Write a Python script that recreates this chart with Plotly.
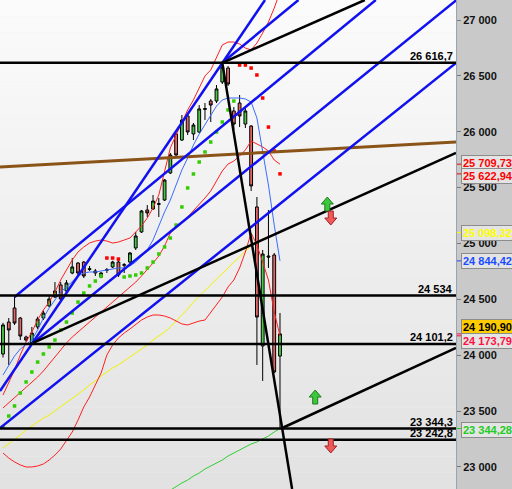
import plotly.graph_objects as go

# ---------------- data ----------------
idx = list(range(49))
open_ = [24011, 24297, 24423, 24333, 24163, 24110, 24253, 24333, 24441, 24521,
         24629, 24575, 24736, 24825, 24834, 24775, 24754, 24700, 24760, 24790,
         24834, 24805, 24834, 24960, 25103, 25300, 25309, 25350, 25389, 25631,
         25980, 25926, 26141, 25980, 25997, 26200, 26275, 26275, 26445, 26570,
         26186, 26257, 26069, 26051, 25327, 24083, 24888, 24897, 23993]
high = [24290, 24333, 24521, 24342, 24175, 24253, 24345, 24400, 24539, 24655,
        24655, 24673, 24870, 24834, 24843, 24799, 24772, 24745, 24781, 24845,
        24870, 24825, 24924, 25103, 25300, 25344, 25434, 25407, 25577, 25810,
        25989, 26150, 26168, 26078, 26239, 26257, 26293, 26418, 26616.7, 26588,
        26221, 26329, 26221, 26060, 25416, 24942, 25300, 24915, 24378]
low = [23980, 23913, 24271, 24136, 24120, 24101.2, 24235, 24315, 24430, 24512,
       24495, 24557, 24725, 24700, 24691, 24754, 24709, 24690, 24736, 24780,
       24700, 24736, 24807, 24942, 25094, 25237, 25300, 25237, 25380, 25622,
       25774, 25917, 25971, 25926, 25989, 26105, 26087, 26257, 26427, 26409,
       26016, 26042, 26033, 25470, 23913, 23770, 24781, 23841, 23344.3]
close = [24271, 24226, 24288, 24172, 24136, 24199, 24324, 24378, 24503, 24575,
         24503, 24647, 24790, 24736, 24709, 24768, 24736, 24736, 24766, 24834,
         24718, 24810, 24915, 25067, 25291, 25273, 25380, 25356, 25568, 25792,
         25792, 26105, 25998, 26060, 26204, 26207, 26239, 26383, 26579, 26427,
         26069, 26141, 26186, 25515, 24342, 24906, 24879, 23850, 24190.9]

bb_upper = [23644, 23760, 23868, 24002, 24118, 24208, 24315, 24405, 24476, 24566,
            24673, 24763, 24852, 24924, 24969, 25004, 25022, 25031, 25022, 25004,
            25013, 25031, 25049, 25103, 25157, 25228, 25318, 25434, 25658, 25855,
            25971, 26087, 26195, 26284, 26392, 26499, 26553, 26660, 26776, 26803,
            26803, 26785, 26749, 26732, 26794, 26884, 26982, 27107, 27251]
bb_mid = [23528, 23573, 23617, 23662, 23707, 23752, 23805, 23859, 23922, 23984,
          24047, 24110, 24163, 24208, 24253, 24297, 24342, 24387, 24432, 24476,
          24521, 24566, 24611, 24655, 24709, 24763, 24825, 24888, 24978, 25094,
          25139, 25183, 25237, 25291, 25353, 25407, 25470, 25559, 25649, 25711,
          25738, 25783, 25837, 25917, 25890, 25864, 25828, 25747, 25709.73]
bb_lower = [23125, 23080, 23045, 23018, 23000, 23000, 23009, 23027, 23062, 23107,
            23161, 23233, 23313, 23420, 23537, 23626, 23734, 23841, 24002, 24092,
            24154, 24199, 24235, 24271, 24315, 24342, 24360, 24360, 24351, 24333,
            24306, 24280, 24271, 24288, 24306, 24315, 24387, 24450, 24521, 24611,
            24673, 24781, 24924, 25094, 24986, 24834, 24673, 24387, 24173.79]
ma_fast = [23823, 23913, 23993, 24056, 24092, 24136, 24226, 24333, 24423, 24494,
           24566, 24611, 24664, 24709, 24736, 24745, 24745, 24754, 24763, 24772,
           24781, 24781, 24799, 24834, 24888, 24942, 25031, 25165, 25282, 25389,
           25523, 25658, 25765, 25881, 25980, 26060, 26150, 26230, 26284, 26302,
           26302, 26302, 26293, 26266, 26123, 25837, 25523, 25165, 24844.42]
ma_mid = [23170, 23206, 23250, 23286, 23331, 23367, 23403, 23438, 23465, 23501,
          23537, 23573, 23609, 23653, 23689, 23734, 23769, 23814, 23850, 23886,
          23913, 23948, 23984, 24020, 24056, 24092, 24136, 24172, 24208, 24253,
          24306, 24360, 24414, 24476, 24530, 24584, 24629, 24682, 24736, 24781,
          24834, 24879, 24933, 24978, 25013, 25040, 25058, 25076, 25098.32]
ma_slow_idx = list(range(28, 49))
ma_slow = [22760, 22794, 22821, 22857, 22883, 22919, 22946, 22982, 23009, 23036,
           23062, 23098, 23125, 23152, 23179, 23206, 23224, 23250, 23277, 23313,
           23344.28]

sar_vals_up = {0: 23358, 1: 23456, 2: 23546, 3: 23662, 4: 23761, 5: 23850, 6: 23939,
               7: 24011, 8: 24074, 9: 24136, 10: 24226, 11: 24297, 12: 24378,
               13: 24476, 14: 24557, 15: 24620, 16: 24664, 17: 24709,
               21: 24700, 22: 24709, 23: 24718, 24: 24736, 25: 24781, 26: 24834,
               27: 24906, 28: 24969, 29: 25049, 30: 25165, 31: 25327, 32: 25497,
               33: 25622, 34: 25729, 35: 25819, 36: 25908, 37: 25998, 38: 26087,
               39: 26195, 40: 26275}
sar_vals_dn = {18: 24870, 19: 24870, 20: 24861, 41: 26597, 42: 26597, 43: 26570,
               44: 26508, 45: 26302, 46: 26042, 47: 25828, 48: 25622.94}

hline_levels = [26616.7, 24534, 24101.2, 23344.3, 23242.8]
hline_labels = ["26 616,7", "24 534", "24 101,2", "23 344,3", "23 242,8"]

# trend lines: ((candle index, price), (candle index, price))
blue_trends = [((-0.52, 23680), (45.4, 27179)),
               ((2, 24521), (64.6, 27179)),
               ((-0.52, 23349), (78.5, 26615)),
               ((5.2, 24110), (78.6, 27179)),
               ((38, 26616.7), (51.2, 27179))]
black_trends = [((38, 26616.7), (50.1, 22803)),
                ((5.2, 24110), (78.5, 25810)),
                ((38, 26616.7), (62.7, 27179)),
                ((48.2, 23344.3), (78.5, 24065))]
brown_trends = [((-0.52, 25684), (78.5, 25908))]

arrows_up = [(56.2, 25353), (54.1, 23626)]
arrows_dn = [(56.8, 25228), (56.8, 23188)]

y_ticks = [23000, 23500, 24000, 24500, 25000, 25500, 26000, 26500, 27000]
y_ticktext = ["23 000", "23 500", "24 000", "24 500", "25 000", "25 500", "26 000", "26 500", "27 000"]

tags = [  # value, text, text colour, background, y shift (px)
    (25709.73, "25 709,73", "#ff0000", "#e4e4e4", 1),
    (25622.94, "25 622,94", "#ff0000", "#e4e4e4", -2),
    (25098.32, "25 098,32", "#ffff00", "#e4e4e4", 0),
    (24844.42, "24 844,42", "#1a4dff", "#e4e4e4", 0),
    (24190.90, "24 190,90", "#000000", "#ffcc00", 7),
    (24173.79, "24 173,79", "#ff1040", "#e4e4e4", -5),
    (23344.28, "23 344,28", "#22cc22", "#e4e4e4", -1),
]

X_RANGE = [-0.52, 78.5]
Y_RANGE = [22803, 27179]

# ---------------- figure ----------------
fig = go.Figure()

n_bands = 30
shapes = []
for k in range(n_bands):
    t = k / (n_bands - 1)
    c = int(round(251 - (251 - 226) * t))
    shapes.append(dict(type="rect", xref="paper", yref="paper", x0=0, x1=1,
                       y0=1 - (k + 1) / n_bands, y1=1 - k / n_bands,
                       fillcolor=f"rgb({c},{c},{c})", line=dict(width=0), layer="below"))

fig.add_trace(go.Scatter(x=ma_slow_idx, y=ma_slow, mode="lines", line=dict(color="#33cc33", width=1)))
fig.add_trace(go.Scatter(x=idx, y=ma_mid, mode="lines", line=dict(color="#f2f200", width=1)))
for band in (bb_upper, bb_mid, bb_lower):
    fig.add_trace(go.Scatter(x=idx, y=band, mode="lines", line=dict(color="#ff2020", width=1)))
fig.add_trace(go.Scatter(x=idx, y=ma_fast, mode="lines", line=dict(color="#3a6cff", width=1)))

fig.add_trace(go.Candlestick(
    x=idx, open=open_, high=high, low=low, close=close,
    increasing=dict(fillcolor="#48c848", line=dict(color="#000000", width=1)),
    decreasing=dict(fillcolor="#e06666", line=dict(color="#000000", width=1)),
    whiskerwidth=0, hoverinfo="skip"))

up_x = list(sar_vals_up.keys())
fig.add_trace(go.Scatter(x=up_x, y=[sar_vals_up[k] for k in up_x], mode="markers",
                         marker=dict(symbol="square", size=3.5, color="#33cc00", line=dict(width=0))))
dn_x = list(sar_vals_dn.keys())
fig.add_trace(go.Scatter(x=dn_x, y=[sar_vals_dn[k] for k in dn_x], mode="markers",
                         marker=dict(symbol="square", size=3.5, color="#ff0000", line=dict(width=0))))

def add_seg(seg, color, width):
    (x0, y0), (x1, y1) = seg
    fig.add_trace(go.Scatter(x=[x0, x1], y=[y0, y1], mode="lines",
                             line=dict(color=color, width=width)))

for seg in brown_trends:
    add_seg(seg, "#8a5418", 3)
for seg in blue_trends:
    add_seg(seg, "#1010f0", 2.5)
for seg in black_trends:
    add_seg(seg, "#000000", 2.5)
for lvl in hline_levels:
    fig.add_trace(go.Scatter(x=X_RANGE, y=[lvl, lvl], mode="lines",
                             line=dict(color="#000000", width=2.5)))

up_path = "M -6 0 L 0 7 L 6 0 L 2.5 0 L 2.5 -7 L -2.5 -7 L -2.5 0 Z"
dn_path = "M -6 0 L 0 -7 L 6 0 L 2.5 0 L 2.5 7 L -2.5 7 L -2.5 0 Z"
for (ax, ay) in arrows_up:
    shapes.append(dict(type="path", xref="x", yref="y", xsizemode="pixel", ysizemode="pixel",
                       xanchor=ax, yanchor=ay, path=up_path, fillcolor="#3cc83c",
                       line=dict(color="#1f7a1f", width=1), layer="above"))
for (ax, ay) in arrows_dn:
    shapes.append(dict(type="path", xref="x", yref="y", xsizemode="pixel", ysizemode="pixel",
                       xanchor=ax, yanchor=ay, path=dn_path, fillcolor="#ee5a5a",
                       line=dict(color="#a02020", width=1), layer="above"))

annotations = []
for lvl, lab in zip(hline_levels, hline_labels):
    annotations.append(dict(xref="paper", yref="y", x=1, y=lvl, text=lab, showarrow=False,
                            xanchor="right", yanchor="bottom", xshift=-1, yshift=-1,
                            font=dict(family="Liberation Sans, Arial", size=11, color="#000000", weight="bold")))

for val, txt, col, bg, ysh in tags:
    annotations.append(dict(xref="paper", yref="y", x=1, y=val, text=txt, showarrow=False,
                            xanchor="left", yanchor="middle", xshift=5, yshift=ysh,
                            bgcolor=bg, bordercolor="#8c8c8c", borderwidth=1, borderpad=1,
                            font=dict(family="Liberation Sans, Arial", size=11, color=col, weight="bold")))
    shapes.append(dict(type="line", xref="paper", yref="y", x0=1.002, x1=1.011, y0=val, y1=val,
                       line=dict(color=col if col != "#000000" else "#ff1040", width=1)))

fig.update_layout(
    width=512, height=489,
    margin=dict(l=0, r=56, t=0, b=0),
    paper_bgcolor="#c9c9c9",
    plot_bgcolor="#eeeeee",
    showlegend=False,
    shapes=shapes,
    annotations=annotations,
    xaxis=dict(range=X_RANGE, visible=False, rangeslider=dict(visible=False), fixedrange=True),
    yaxis=dict(range=Y_RANGE, side="right", tickvals=y_ticks, ticktext=y_ticktext,
               showgrid=False, zeroline=False, showline=True, linecolor="#98a4b0", linewidth=1,
               ticks="outside", ticklen=4, tickcolor="#7a7a7a",
               tickfont=dict(family="Liberation Sans, Arial", size=11, color="#111111", weight="bold"),
               fixedrange=True),
)

fig.write_html("out.html", config={"displayModeBar": False},
               post_script="document.body.style.margin='0';document.body.style.overflow='hidden';")
